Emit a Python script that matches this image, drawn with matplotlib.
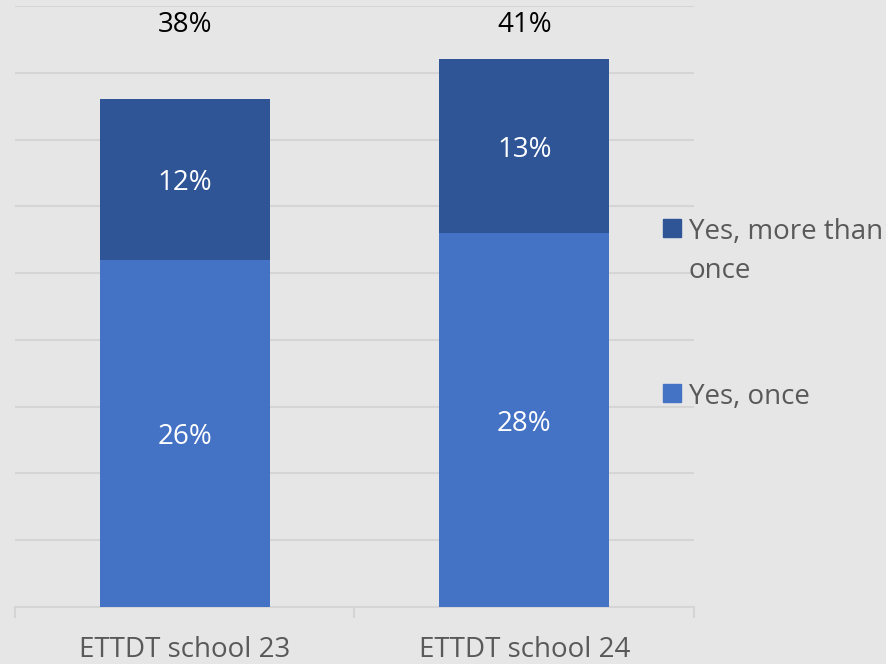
import matplotlib
matplotlib.use("Agg")
import matplotlib.pyplot as plt
from matplotlib.patches import Rectangle
import numpy as np

# Data
categories = ["ETTDT school 23", "ETTDT school 24"]
yes_once = [26, 28]
yes_more_than_once = [12, 13]
series_labels = ["Yes, more than\nonce", "Yes, once"]

color_once = "#4472C4"
color_more = "#2F5597"
bg = "#E6E6E6"
grid_c = "#D5D5D5"
text_gray = "#595959"

plt.rcParams["font.family"] = ["Open Sans", "DejaVu Sans"]
FS = 20

fig = plt.figure(figsize=(8.87, 6.64), dpi=100, facecolor=bg)
W, H = 887, 664
ax = fig.add_axes([15 / W, (H - 607) / H, (694 - 15) / W, (607 - 6) / H])
ax.set_facecolor(bg)

x = np.arange(len(categories))
width = 0.5
ax.bar(x, yes_once, width, color=color_once, zorder=3)
ax.bar(x, yes_more_than_once, width, bottom=yes_once, color=color_more, zorder=3)

# segment labels and totals
for i in range(len(categories)):
    ax.text(x[i], yes_once[i] / 2, f"{yes_once[i]}%", ha="center", va="center_baseline",
            color="white", fontsize=FS, zorder=4)
    ax.text(x[i], yes_once[i] + yes_more_than_once[i] / 2, f"{yes_more_than_once[i]}%",
            ha="center", va="center_baseline", color="white", fontsize=FS, zorder=4)
    total = yes_once[i] + yes_more_than_once[i]
    ax.text(x[i], 43.85, f"{total}%", ha="center", va="center_baseline", color="black",
            fontsize=FS, zorder=4)

ax.set_xlim(-0.5, 1.5)
ax.set_ylim(0, 45)
ax.set_yticks(np.arange(0, 46, 5))
ax.yaxis.grid(True, color=grid_c, linewidth=1.5, zorder=0)
ax.tick_params(axis="y", length=0, labelleft=False)

ax.set_xticks(x)
ax.set_xticklabels(categories, fontsize=FS, color=text_gray)
ax.set_xticks([-0.5, 0.5, 1.5], minor=True)
ax.tick_params(axis="x", which="major", length=0, pad=21)
ax.tick_params(axis="x", which="minor", length=8, width=1.5, color=grid_c)

for s in ["top", "right", "left"]:
    ax.spines[s].set_visible(False)
ax.spines["bottom"].set_color(grid_c)
ax.spines["bottom"].set_linewidth(1.5)

# legend drawn beside the plot
sq = 18
fig.patches.append(Rectangle((663 / W, (H - 237) / H), sq / W, sq / H,
                             transform=fig.transFigure, color=color_more, figure=fig))
fig.patches.append(Rectangle((663 / W, (H - 402) / H), sq / W, sq / H,
                             transform=fig.transFigure, color=color_once, figure=fig))
fig.text(689 / W, (H - 228) / H, "Yes, more than", fontsize=FS, color=text_gray,
         va="center_baseline", ha="left")
fig.text(689 / W, (H - 268) / H, "once", fontsize=FS, color=text_gray,
         va="center_baseline", ha="left")
fig.text(689 / W, (H - 393) / H, "Yes, once", fontsize=FS, color=text_gray,
         va="center_baseline", ha="left")

fig.savefig("out.png", dpi=100, facecolor=bg)
